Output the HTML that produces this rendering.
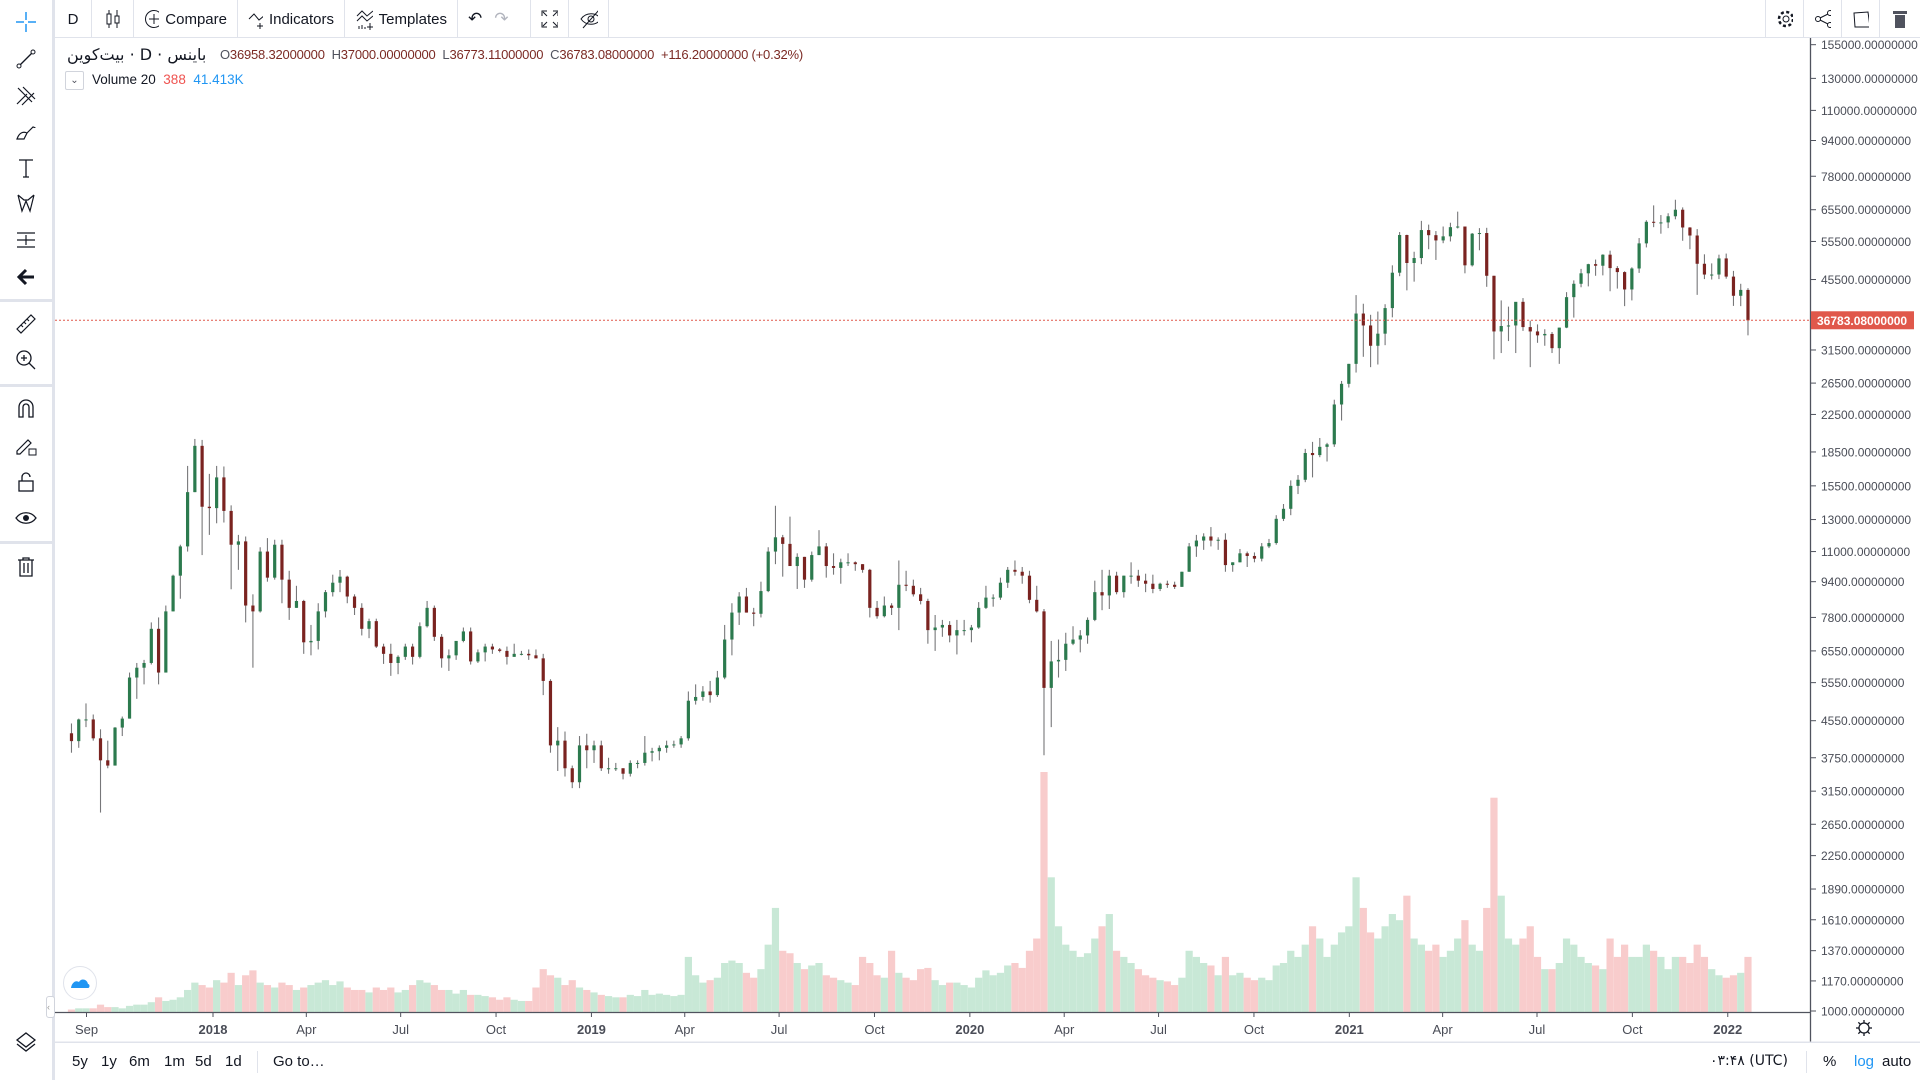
<!DOCTYPE html>
<html><head><meta charset="utf-8">
<style>
*{box-sizing:border-box;margin:0;padding:0}
body{width:1920px;height:1080px;background:#fff;font-family:"Liberation Sans","DejaVu Sans",sans-serif;color:#131722;overflow:hidden;position:relative}
.abs{position:absolute}
#topbar{left:55px;top:0;width:1865px;height:38px;border-bottom:1px solid #e0e3eb}
.tb{position:absolute;top:0;height:38px;display:flex;align-items:center;font-size:15px;color:#131722;border-right:1px solid #e0e3eb;padding:0 10px}
#leftbar{left:0;top:0;width:52px;height:1080px;background:#fff}
#leftsep{left:52px;top:0;width:3px;height:1080px;background:#e0e3eb}
.li{position:absolute;left:14px;width:24px;height:24px}
.lsep{position:absolute;left:0;width:52px;height:3px;background:#e0e3eb}
#bottombar{left:55px;top:1042px;width:1865px;height:38px;border-top:1px solid #e0e3eb;font-size:15px}
.bb{position:absolute;top:10px}
</style></head>
<body>
<div id="leftbar" class="abs">
 <svg class="li" style="top:10px" viewBox="0 0 24 24"><path d="M12 2v8M12 14v8M2 12h8M14 12h8" stroke="#2196f3" stroke-width="1.5" fill="none"/></svg>
 <svg class="li" style="top:47px" viewBox="0 0 24 24"><path d="M5 19L19 5" stroke="#131722" stroke-width="1.3"/><circle cx="5" cy="19" r="2" fill="#fff" stroke="#131722"/><circle cx="19" cy="5" r="2" fill="#fff" stroke="#131722"/></svg>
 <svg class="li" style="top:84px" viewBox="0 0 24 24"><path d="M4 4l14 14M9 3l12 12M3 20l10-10M8 21L20 9" stroke="#131722" stroke-width="1.2" fill="none"/></svg>
 <svg class="li" style="top:120px" viewBox="0 0 24 24"><path d="M3 19c2-6 6-8 10-6l-3 6zM13 13l6-6c1 0 2 1 2 0" stroke="#131722" stroke-width="1.2" fill="none"/></svg>
 <svg class="li" style="top:156px" viewBox="0 0 24 24"><path d="M5 4h14M12 4v17M9 21h6" stroke="#131722" stroke-width="1.3" fill="none"/></svg>
 <svg class="li" style="top:191px" viewBox="0 0 24 24"><path d="M4 4l4 16 4-10 4 10 4-16M4 4l6 5 4 0 6-5" stroke="#131722" stroke-width="1.2" fill="none"/></svg>
 <svg class="li" style="top:228px" viewBox="0 0 24 24"><path d="M3 5h18M3 12h18M3 19h18M12 7v10" stroke="#131722" stroke-width="1.2" fill="none"/></svg>
 <svg class="li" style="top:265px" viewBox="0 0 24 24"><path d="M20 12H6M12 5l-7 7 7 7" stroke="#131722" stroke-width="3" fill="none"/></svg>
 <div class="lsep" style="top:299px"></div>
 <svg class="li" style="top:312px" viewBox="0 0 24 24"><path d="M3 17L17 3l4 4L7 21z M7 13l2 2M10 10l2 2M13 7l2 2" stroke="#131722" stroke-width="1.2" fill="none"/></svg>
 <svg class="li" style="top:348px" viewBox="0 0 24 24"><circle cx="10" cy="10" r="7" stroke="#131722" fill="none" stroke-width="1.3"/><path d="M15 15l6 6M7 10h6M10 7v6" stroke="#131722" stroke-width="1.3"/></svg>
 <div class="lsep" style="top:384px"></div>
 <svg class="li" style="top:397px" viewBox="0 0 24 24"><path d="M5 20V10a7 7 0 0 1 14 0v10h-4V10a3 3 0 0 0-6 0v10z" stroke="#131722" stroke-width="1.3" fill="none"/></svg>
 <svg class="li" style="top:434px" viewBox="0 0 24 24"><path d="M3 17L14 6l3 3L6 20H3z" stroke="#131722" stroke-width="1.2" fill="none"/><rect x="15" y="15" width="7" height="6" stroke="#131722" fill="none"/></svg>
 <svg class="li" style="top:470px" viewBox="0 0 24 24"><rect x="5" y="11" width="14" height="10" stroke="#131722" fill="none" stroke-width="1.3"/><path d="M8 11V7a4 4 0 0 1 8 0" stroke="#131722" fill="none" stroke-width="1.3"/></svg>
 <svg class="li" style="top:506px" viewBox="0 0 24 24"><path d="M2 12c5-7 15-7 20 0-5 7-15 7-20 0z" stroke="#131722" fill="none" stroke-width="1.3"/><circle cx="12" cy="12" r="3" fill="#131722"/></svg>
 <div class="lsep" style="top:541px"></div>
 <svg class="li" style="top:555px" viewBox="0 0 24 24"><path d="M4 5h16M9 5V3h6v2M6 5v16h12V5M10 8v10M14 8v10" stroke="#131722" fill="none" stroke-width="1.3"/></svg>
 <svg class="li" style="top:1030px" viewBox="0 0 24 24"><path d="M12 3l9 7-9 7-9-7z M3 14l9 7 9-7" stroke="#131722" fill="none" stroke-width="1.3"/></svg>
</div>
<div id="leftsep" class="abs"></div>

<div id="topbar" class="abs">
 <div class="tb" style="left:0;width:37px;justify-content:center">D</div>
 <div class="tb" style="left:37px;width:42px;justify-content:center"><svg width="18" height="20" viewBox="0 0 18 20"><path d="M5 1v18M13 1v18" stroke="#131722"/><rect x="3" y="5" width="4" height="10" fill="#fff" stroke="#131722"/><rect x="11" y="7" width="4" height="7" fill="#fff" stroke="#131722"/></svg></div>
 <div class="tb" style="left:79px;width:104px"><svg width="20" height="20" style="margin-right:6px"><circle cx="10" cy="10" r="8.5" stroke="#131722" fill="none"/><path d="M10 5v10M5 10h10" stroke="#131722"/></svg>Compare</div>
 <div class="tb" style="left:183px;width:107px"><svg width="24" height="20" style="margin-right:6px"><path d="M1 10l5-5 5 6 6-5M12 14v6M9 17h6" stroke="#131722" fill="none"/></svg>Indicators</div>
 <div class="tb" style="left:290px;width:113px"><svg width="24" height="22" style="margin-right:6px"><path d="M2 8l5-5 5 5 6-5M2 13l5-5 5 5 6-5M4 21v-3M7 21v-4M10 21v-2M15 15v7M12 19h7" stroke="#131722" fill="none"/></svg>Templates</div>
 <div class="tb" style="left:403px;width:73px"><span style="font-size:17px">↶</span><span style="font-size:17px;color:#b2b5be;margin-left:12px">↷</span></div>
 <div class="tb" style="left:476px;width:38px;justify-content:center"><svg width="18" height="18"><path d="M1 6V1h5M12 1h5v5M17 12v5h-5M6 17H1v-5M2 2l4 4M16 2l-4 4M16 16l-4-4M2 16l4-4" stroke="#131722" fill="none"/></svg></div>
 <div class="tb" style="left:514px;width:40px;justify-content:center"><svg width="24" height="20"><path d="M2 10c5-7 15-7 20 0-5 7-15 7-20 0z" stroke="#131722" fill="none"/><circle cx="12" cy="10" r="3" stroke="#131722" fill="none"/><path d="M4 19L20 1" stroke="#131722"/></svg></div>
 <div class="tb" style="left:1710px;width:39px;border-left:1px solid #e0e3eb;justify-content:center"><svg width="20" height="20"><circle cx="10" cy="10" r="3" stroke="#131722" fill="none"/><circle cx="10" cy="10" r="7" stroke="#131722" stroke-dasharray="3 2.5" stroke-width="2.5" fill="none"/></svg></div>
 <div class="tb" style="left:1749px;width:38px;justify-content:center"><svg width="20" height="20"><circle cx="4" cy="10" r="2.5" stroke="#131722" fill="none"/><circle cx="16" cy="4" r="2.5" stroke="#131722" fill="none"/><circle cx="16" cy="16" r="2.5" stroke="#131722" fill="none"/><path d="M6 9l8-4M6 11l8 4" stroke="#131722"/></svg></div>
 <div class="tb" style="left:1787px;width:38px;justify-content:center"><svg width="20" height="20"><path d="M2 4l14-1 2 15H3z" stroke="#131722" fill="none"/></svg></div>
 <div class="tb" style="left:1825px;width:40px;border-right:none;justify-content:center"><svg width="16" height="20"><rect x="1" y="2" width="14" height="3" fill="#50535e"/><rect x="3" y="6" width="10" height="13" fill="#50535e"/></svg></div>
</div>

<svg id="chart" class="abs" style="left:0;top:0" width="1920" height="1080"></svg>

<div class="abs" style="left:67px;top:45px;font-size:16px;color:#131722;direction:rtl;font-family:'DejaVu Sans',sans-serif">باینس · D · بیت‌کوین</div>
<div class="abs" style="left:220px;top:47px;font-size:13px;color:#7b2a24;letter-spacing:-0.2px"><span style="color:#50535e">O</span>36958.32000000&nbsp;&nbsp;<span style="color:#50535e">H</span>37000.00000000&nbsp;&nbsp;<span style="color:#50535e">L</span>36773.11000000&nbsp;&nbsp;<span style="color:#50535e">C</span>36783.08000000&nbsp;&nbsp;+116.20000000 (+0.32%)</div>
<div class="abs" style="left:65px;top:71px;width:19px;height:19px;border:1px solid #d1d4dc;border-radius:2px;font-size:10px;text-align:center;line-height:17px;color:#50535e">⌄</div>
<div class="abs" style="left:92px;top:72px;font-size:13.5px">Volume 20&nbsp;&nbsp;<span style="color:#ef5350">388</span>&nbsp;&nbsp;<span style="color:#2196f3">41.413K</span></div>
<div class="abs" style="left:63px;top:966px;width:34px;height:34px;border-radius:50%;border:1px solid #e0e3eb;background:#fff"><svg width="32" height="32" viewBox="0 0 32 32"><path d="M7 21c1-6 5-8 8-6 2-4 8-3 9 2 2 0 2 4 0 4z" fill="#2196f3"/></svg></div>
<div class="abs" style="left:46px;top:996px;width:9px;height:22px;border:1px solid #d1d4dc;border-radius:3px;background:#fff;font-size:9px;color:#999;line-height:20px">‹</div>

<div id="bottombar" class="abs">
 <span class="bb" style="left:17px">5y</span>
 <span class="bb" style="left:46px">1y</span>
 <span class="bb" style="left:74px">6m</span>
 <span class="bb" style="left:109px">1m</span>
 <span class="bb" style="left:140px">5d</span>
 <span class="bb" style="left:170px">1d</span>
 <div class="abs" style="left:202px;top:8px;width:1px;height:22px;background:#e0e3eb"></div>
 <span class="bb" style="left:218px">Go to…</span>
 <span class="bb" style="left:1655px;font-family:'DejaVu Sans',sans-serif;font-size:14px">۰۳:۴۸ (UTC)</span>
 <div class="abs" style="left:1751px;top:8px;width:1px;height:22px;background:#e0e3eb"></div>
 <span class="bb" style="left:1768px">%</span>
 <span class="bb" style="left:1799px;color:#2196f3">log</span>
 <span class="bb" style="left:1827px">auto</span>
</div>

<script>
const priceTicks=[155000,130000,110000,94000,78000,65500,55500,45500,31500,26500,22500,18500,15500,13000,11000,9400,7800,6550,5550,4550,3750,3150,2650,2250,1890,1610,1370,1170,1000];
const timeLabels=["Sep","2018","Apr","Jul","Oct","2019","Apr","Jul","Oct","2020","Apr","Jul","Oct","2021","Apr","Jul","Oct","2022"];
const timeLabelDates=["2017-09-01","2018-01-01","2018-04-01","2018-07-01","2018-10-01","2019-01-01","2019-04-01","2019-07-01","2019-10-01","2020-01-01","2020-04-01","2020-07-01","2020-10-01","2021-01-01","2021-04-01","2021-07-01","2021-10-01","2022-01-01"];
const firstWeek="2017-08-14";
const firstOpen=4261;
const lastPrice=36783.08;
// weekly closes
const closes=[4090,4580,4580,4150,3700,3600,4390,4600,5700,6000,6150,7350,5850,8050,9700,11300,15000,19100,13900,13800,
16200,13600,11400,11600,8300,8050,11000,9600,11400,9500,8200,8500,6850,6900,8050,8900,9350,9650,8700,8200,7350,7650,6700,6450,6150,6350,6700,6350,7450,8200,7050,6300,6400,6900,7250,6200,6500,6700,6600,6550,6350,6450,6450,6400,6300,5600,4000,4100,3550,3300,4000,3900,4000,
3550,3550,3550,3450,3650,3650,3850,3880,3950,4000,4020,4150,5050,5150,5300,5200,5700,6950,8000,8700,8000,7950,8950,11000,11850,11450,10200,10700,9500,10800,11300,10200,10100,10400,10400,10300,10000,8200,7850,8300,8200,9250,9200,8800,8500,7300,7400,7500,7100,7300,7300,7400,
8200,8650,8650,9350,10000,9900,9700,8550,8050,5400,6200,6250,6800,6950,7100,7700,8900,8750,9700,8900,9700,9700,9450,9300,9050,9300,9250,9150,9900,11300,11650,11900,11650,11700,10250,10400,10900,10750,10600,11300,11500,13050,13750,15500,16000,18400,18200,19000,19250,23700,26400,29300,
38100,35800,32200,34300,39200,47150,57400,49600,50900,58900,57350,55800,57000,59800,60000,49000,57800,58000,46400,34700,35700,35800,40500,35500,34700,34000,34250,31800,35400,41500,44500,47000,49300,48900,51800,48300,47300,43200,48200,54950,61500,61300,61300,63300,65500,59700,57250,49400,46700,46700,50800,46200,
41800,43100,36783];
const highs=[4485,4600,4980,4700,4350,4100,4400,4650,5850,6150,6250,7600,7800,8300,9750,11400,17200,19800,19700,16500,
17200,17150,14000,12000,11900,8800,11250,11800,11700,11700,9950,9200,8550,7500,8400,9000,9750,9990,9700,8800,8400,7750,7750,6800,6800,6400,6800,6800,7600,8500,8300,7150,6600,6800,7400,7400,6600,6800,6800,6650,6700,6800,6550,6600,6600,6450,5650,4400,4300,3600,4200,4250,4100,
4100,3750,3650,3550,3700,3700,4200,3950,4000,4100,4100,4200,5300,5500,5450,5600,5900,7500,8400,8900,9100,8200,9400,11250,13970,12000,13200,10900,10700,11000,12300,11500,10900,10600,10900,10450,10300,10050,8500,8700,8400,10500,9950,9500,9100,8600,7900,7700,7650,7700,7700,7500,
8450,9200,8800,9600,10150,10500,10150,9950,9200,8150,6900,6950,7200,7450,7300,7800,9450,10000,10000,9900,9700,10400,10000,9800,9750,9350,9450,9400,9900,11500,12000,12100,12500,11850,12100,10400,11150,11000,10950,11500,11750,13300,14100,15950,16400,18800,19500,19900,19400,24300,26800,29300,
41950,40100,37850,38500,40000,49000,58300,57500,52600,61800,60600,58600,60000,61200,64850,57500,58000,59500,59600,46400,40800,39500,40400,41300,36700,36000,35100,34600,35400,42600,45300,48100,49400,50500,51900,52900,48800,47500,48500,56500,62000,67000,63700,64300,69000,66300,59800,59200,51900,49500,51800,52100,
47600,44500,43500];
const lows=[3850,3950,4400,4100,2817,3550,3600,4200,4600,5100,5500,6100,5500,5850,8050,8600,11000,15000,10800,12000,
12750,12800,9035,10000,7600,6000,8000,9400,9500,8400,7700,8200,6450,6400,6600,7800,8700,8900,8400,7900,7100,7000,6650,6120,5750,5800,6250,6100,6300,7400,6900,6000,5900,6250,6850,6100,6150,6200,6450,6500,6100,6350,6400,6250,6300,5200,3850,3500,3400,3200,3200,3550,3650,
3500,3450,3500,3350,3400,3550,3600,3680,3700,3850,3950,3950,4100,4950,5050,5000,5150,5650,6400,7500,8000,7450,7800,8900,10300,9650,10800,9050,9100,9400,10800,9600,9750,9300,10200,9950,9850,7800,7750,7800,7900,7300,8950,8700,8350,6800,6550,7050,6850,6430,7100,6850,
7350,8150,8250,8550,9100,9700,9300,8400,8000,3800,4400,5700,5900,6750,6500,6800,7650,8100,8150,8800,8650,9300,9150,8900,8850,8950,9100,9050,9150,9900,10700,11100,11300,11100,9900,9900,10400,10150,10400,10450,11200,11400,12900,13300,14850,15800,16200,18000,17600,19000,21800,25900,
28000,30400,28800,29200,32300,37350,46300,43000,45000,49300,53300,50400,55000,55500,59400,47000,48700,53000,43800,30000,31000,33000,31000,34800,28800,32700,32200,31000,29300,35300,37300,43700,43900,46400,46500,42800,43400,39600,40800,47100,53800,59800,57800,59500,62300,55700,53300,42000,45600,45500,45600,45700,
39650,39600,34000];
// weekly volume (relative units)
const volumes=[2,3,3,3,6,4,4,3,5,6,6,8,12,9,10,12,18,24,22,20,
26,24,32,22,30,34,24,22,20,24,22,18,20,22,24,26,22,25,20,18,18,16,20,18,20,16,18,22,26,24,22,18,18,15,18,14,14,13,12,10,12,10,9,9,20,35,30,28,22,26,20,18,16,
14,13,12,12,14,13,18,14,15,14,13,14,45,30,24,26,28,40,42,40,32,28,35,55,85,50,48,40,35,38,40,30,28,26,24,22,45,40,30,28,50,32,28,26,35,36,26,22,24,24,22,20,
28,34,30,32,38,40,36,50,60,196,110,70,55,50,45,48,60,70,80,50,45,40,35,30,28,26,25,22,28,50,45,40,38,30,45,30,32,28,26,28,26,38,40,50,45,55,70,60,45,55,65,70,
110,85,65,60,70,80,75,95,60,55,50,55,45,50,60,75,55,50,85,175,95,60,55,60,70,45,35,35,40,60,55,45,40,38,35,60,45,55,45,45,55,50,45,35,45,45,40,55,45,35,30,28,
30,32,45];

const svg=document.getElementById('chart');
const NS='http://www.w3.org/2000/svg';
const day0=Date.UTC(2018,0,1);
function xDate(ms){return 213+(ms-day0)/86400000*1.0368;}
function yP(p){return 1011-Math.log(p/1000)*191.6;}
const volMax=196, volH=240, volBase=1012;
function yV(v){return volBase-v/volMax*volH;}
function mk(tag,attrs,parent){const e=document.createElementNS(NS,tag);for(const k in attrs)e.setAttribute(k,attrs[k]);(parent||svg).appendChild(e);return e;}

const gVol=mk('g',{});


const gC=mk('g',{});


const w0=Date.parse(firstWeek+'T00:00:00Z');
let prev=firstOpen;
const n=Math.min(closes.length,highs.length,lows.length,volumes.length);
for(let i=0;i<n;i++){
  const t=w0+i*7*86400000+3.5*86400000;
  const cx=xDate(t);
  const o=prev,c=closes[i];
  const up=c>=o;
  const vb=mk('rect',{x:cx-3.6,y:yV(volumes[i]),width:7.2,height:volBase-yV(volumes[i]),fill:up?'#c8e8d6':'#f8cccc'},gVol);
  
  
  const wk=mk('line',{x1:cx,x2:cx,y1:yP(highs[i]),y2:yP(lows[i]),stroke:'#777779','stroke-width':1.1},gC);
  
  
  const yt=Math.min(yP(o),yP(c)),yb=Math.max(yP(o),yP(c));
  const bd=mk('rect',{x:cx-1.6,y:yt,width:3.2,height:Math.max(1,yb-yt),fill:up?'#2c7a4e':'#7a2320'},gC);
  
  
  prev=c;
}
// price line
const pl=mk('line',{x1:55,x2:1810,y1:yP(lastPrice),y2:yP(lastPrice),stroke:'#e0584b','stroke-width':1,'stroke-dasharray':'2 2'});


// axes
const ax=mk('line',{x1:1810.5,x2:1810.5,y1:38,y2:1042,stroke:'#50535e','stroke-width':1.3});


const tx=mk('line',{x1:55,x2:1810,y1:1012.5,y2:1012.5,stroke:'#50535e','stroke-width':1.3});


mk('line',{x1:55,x2:1920,y1:1042,y2:1042,stroke:'#e0e3eb'});
for(const p of priceTicks){
  const y=yP(p);
  mk('line',{x1:1811,x2:1816,y1:y,y2:y,stroke:'#50535e'});
  const t=mk('text',{x:1821,y:y+4.5,'font-size':12,fill:'#4a4d57','font-family':'Liberation Sans, sans-serif'});
  t.textContent=p.toFixed(8);
  
  
}
const lb=mk('rect',{x:1811,y:yP(lastPrice)-9,width:103,height:18,fill:'#e0584b'});


const lt=mk('text',{x:1817,y:yP(lastPrice)+4.5,'font-size':12,'font-weight':'bold',fill:'#fff','font-family':'Liberation Sans, sans-serif'});
lt.textContent=lastPrice.toFixed(8);


for(let i=0;i<timeLabels.length;i++){
  const x=xDate(Date.parse(timeLabelDates[i]+'T00:00:00Z'));
  mk('line',{x1:x,x2:x,y1:1013,y2:1017,stroke:'#50535e'});
  const isYear=/^\d+$/.test(timeLabels[i]);
  const t=mk('text',{x:x,y:1034,'font-size':13,'text-anchor':'middle',fill:'#4a4d57','font-weight':isYear?'bold':'normal','font-family':'Liberation Sans, sans-serif'});
  t.textContent=timeLabels[i];
  
  
}
// axis settings gear
const gear=mk('g',{transform:'translate(1864,1028)'});


mk('circle',{cx:0,cy:0,r:5,fill:'none',stroke:'#131722','stroke-width':1.3},gear);
for(let a=0;a<8;a++){const r=a*Math.PI/4;mk('line',{x1:Math.cos(r)*5,y1:Math.sin(r)*5,x2:Math.cos(r)*8,y2:Math.sin(r)*8,stroke:'#131722','stroke-width':1.3},gear);}
</script>
</body></html>
